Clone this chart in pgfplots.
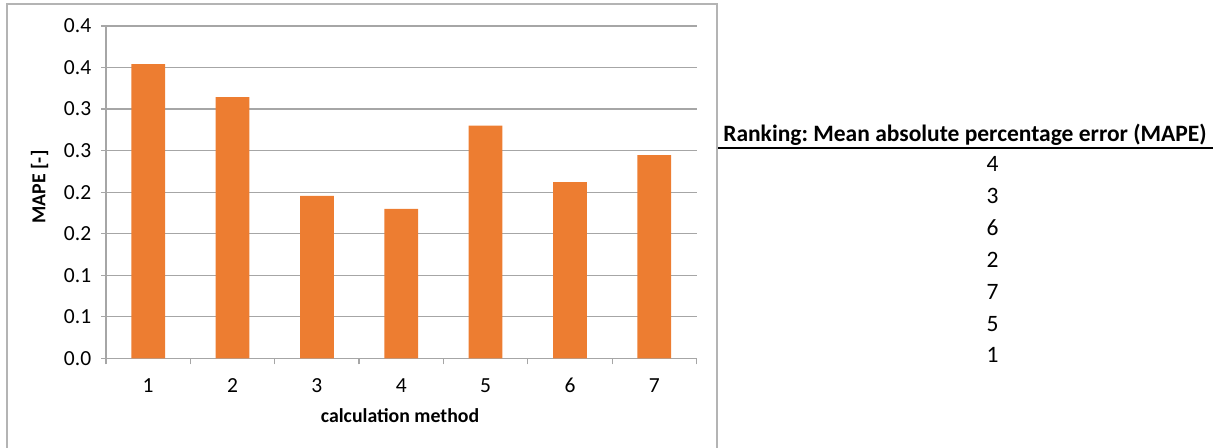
\documentclass[border=0pt]{standalone}
\usepackage{pgfplots}
\pgfplotsset{compat=1.18}
\usepackage{fontspec}
\setmainfont{Carlito}
\definecolor{barorange}{HTML}{ED7D31}
\definecolor{gridgray}{HTML}{A6A6A6}
\definecolor{framegray}{HTML}{B4B4B4}
\newcommand{\chartfont}{\fontsize{19.8bp}{23bp}\selectfont}
\newcommand{\tickfont}{\fontsize{21.5bp}{25bp}\selectfont}
\newcommand{\tablefont}{\fontsize{23.5bp}{27bp}\selectfont}
\begin{document}
\frenchspacing
\chartfont
\begin{tikzpicture}[x=1bp,y=1bp]
\path[use as bounding box] (0,0) rectangle (1215,448);
\draw[framegray, line width=1.3bp] (7,0) -- (7,444) -- (717,444) -- (717,0);
\begin{axis}[
  at={(106bp,89.7bp)}, anchor=south west,
  width=590.5bp, height=332.3bp, scale only axis,
  xmin=0.5, xmax=7.5, ymin=0, ymax=0.4,
  axis lines*=left,
  axis line style={gridgray, line width=1.2bp},
  xtick={1,2,3,4,5,6,7},
  xticklabels={1,2,3,4,5,6,7},
  minor xtick={0.5,1.5,2.5,3.5,4.5,5.5,6.5,7.5},
  ytick={0,0.05,0.1,0.15,0.2,0.25,0.3,0.35,0.4},
  yticklabels={0.0,0.1,0.1,0.2,0.2,0.3,0.3,0.4,0.4},
  tick align=outside,
  major tick length=5bp,
  minor tick length=6bp,
  x tick style={draw=none},
  minor x tick style={draw=gridgray, line width=1.2bp},
  y tick style={draw=gridgray, line width=1.2bp},
  ymajorgrids,
  grid style={gridgray, line width=1.2bp},
  ticklabel style={font=\tickfont, text=black},
  xticklabel style={anchor=base, yshift=-29bp},
  yticklabel style={anchor=east, xshift=-3bp},
  xlabel={\bfseries calculation method},
  xlabel style={at={(axis description cs:0.4979,-0.1947)}, anchor=base, font=\chartfont},
  ylabel={\bfseries MAPE [-]},
  ylabel style={at={(axis description cs:-0.1126,0.5155)}, anchor=center, font=\chartfont},
  ybar, bar width=0.4,
]
\addplot[fill=barorange, draw=none] table {
x y
1 0.354
2 0.3145
3 0.1955
4 0.180
5 0.280
6 0.212
7 0.2445
};
\end{axis}
\node[anchor=base, font=\tablefont\bfseries] at (965,306.5) {Ranking: Mean absolute percentage error (MAPE)};
\draw[black, line width=1.8bp] (718,300) -- (1213,300);
\begin{scope}[every node/.style={anchor=base, font=\tablefont}]
\node at (992.5,276) {4};
\node at (992.5,244.2) {3};
\node at (992.5,212.3) {6};
\node at (992.5,180.5) {2};
\node at (992.5,148.7) {7};
\node at (992.5,116.8) {5};
\node at (992.5,85) {1};
\end{scope}
\end{tikzpicture}
\end{document}
